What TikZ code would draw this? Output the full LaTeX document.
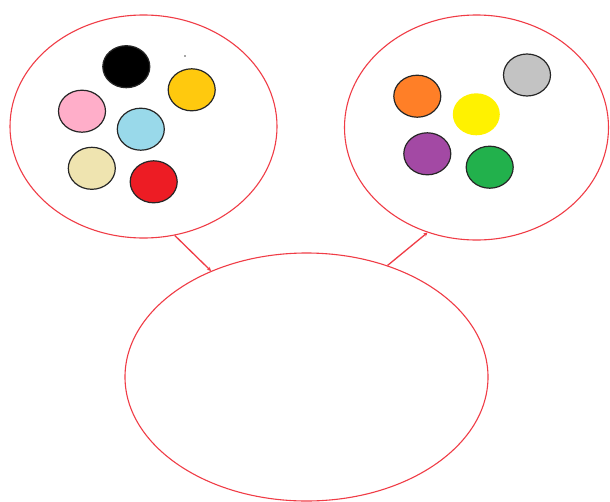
\documentclass[tikz,border=0pt]{standalone}
\usetikzlibrary{shapes.geometric,arrows.meta}
\definecolor{ringred}{RGB}{240,60,70}
\definecolor{cgold}{RGB}{255,201,14}
\definecolor{cpink}{RGB}{255,174,201}
\definecolor{cblue}{RGB}{153,217,234}
\definecolor{cbeige}{RGB}{239,228,176}
\definecolor{cred}{RGB}{237,28,36}
\definecolor{cgray}{RGB}{195,195,195}
\definecolor{corange}{RGB}{255,127,39}
\definecolor{cyellow}{RGB}{255,242,0}
\definecolor{cpurple}{RGB}{163,73,164}
\definecolor{cgreen}{RGB}{34,177,76}
\tikzset{
  ring/.style={ellipse, draw=ringred, line width=1.1pt, inner sep=0pt},
  dot/.style={ellipse, draw=black!85, line width=1.2pt, inner sep=0pt, minimum width=47pt, minimum height=42pt},
  link/.style={draw=ringred, line width=1.3pt, -{Stealth[length=4pt,width=4pt]}}
}
\begin{document}
\begin{tikzpicture}[x=1pt,y=-1pt]
\useasboundingbox[fill=white] (0,0) rectangle (610,501);
% big ellipses
\node[ring, minimum width=267pt, minimum height=223pt] (L) at (143.5,126.5) {};
\node[ring, minimum width=264pt, minimum height=225pt] (R) at (476.5,127.5) {};
\node[ring, minimum width=363pt, minimum height=248pt] (B) at (306.5,377) {};
% left group
\node[dot, fill=black] (k) at (126.3,66.7) {};
\node[dot, fill=cgold] (g) at (191.7,89.8) {};
\node[dot, fill=cpink] (p) at (82,111.2) {};
\node[dot, fill=cblue] (lb) at (140.8,129.2) {};
\node[dot, fill=cbeige] (be) at (91.8,168.3) {};
\node[dot, fill=cred] (rd) at (153.7,181.8) {};
\fill[black!70] (185,56) circle (0.8pt);
% right group
\node[dot, fill=cgray] (gr) at (527,75) {};
\node[dot, fill=corange] (o) at (417.3,96.2) {};
\node[dot, fill=cyellow, draw=none] (y) at (476.3,114.3) {};
\node[dot, fill=cpurple] (pu) at (427.3,153.8) {};
\node[dot, fill=cgreen] (gn) at (489.7,167.2) {};
% connectors
\draw[link] (L.-74) -- (B.132);
\draw[link] (B.54) -- (R.245);
\end{tikzpicture}
\end{document}
